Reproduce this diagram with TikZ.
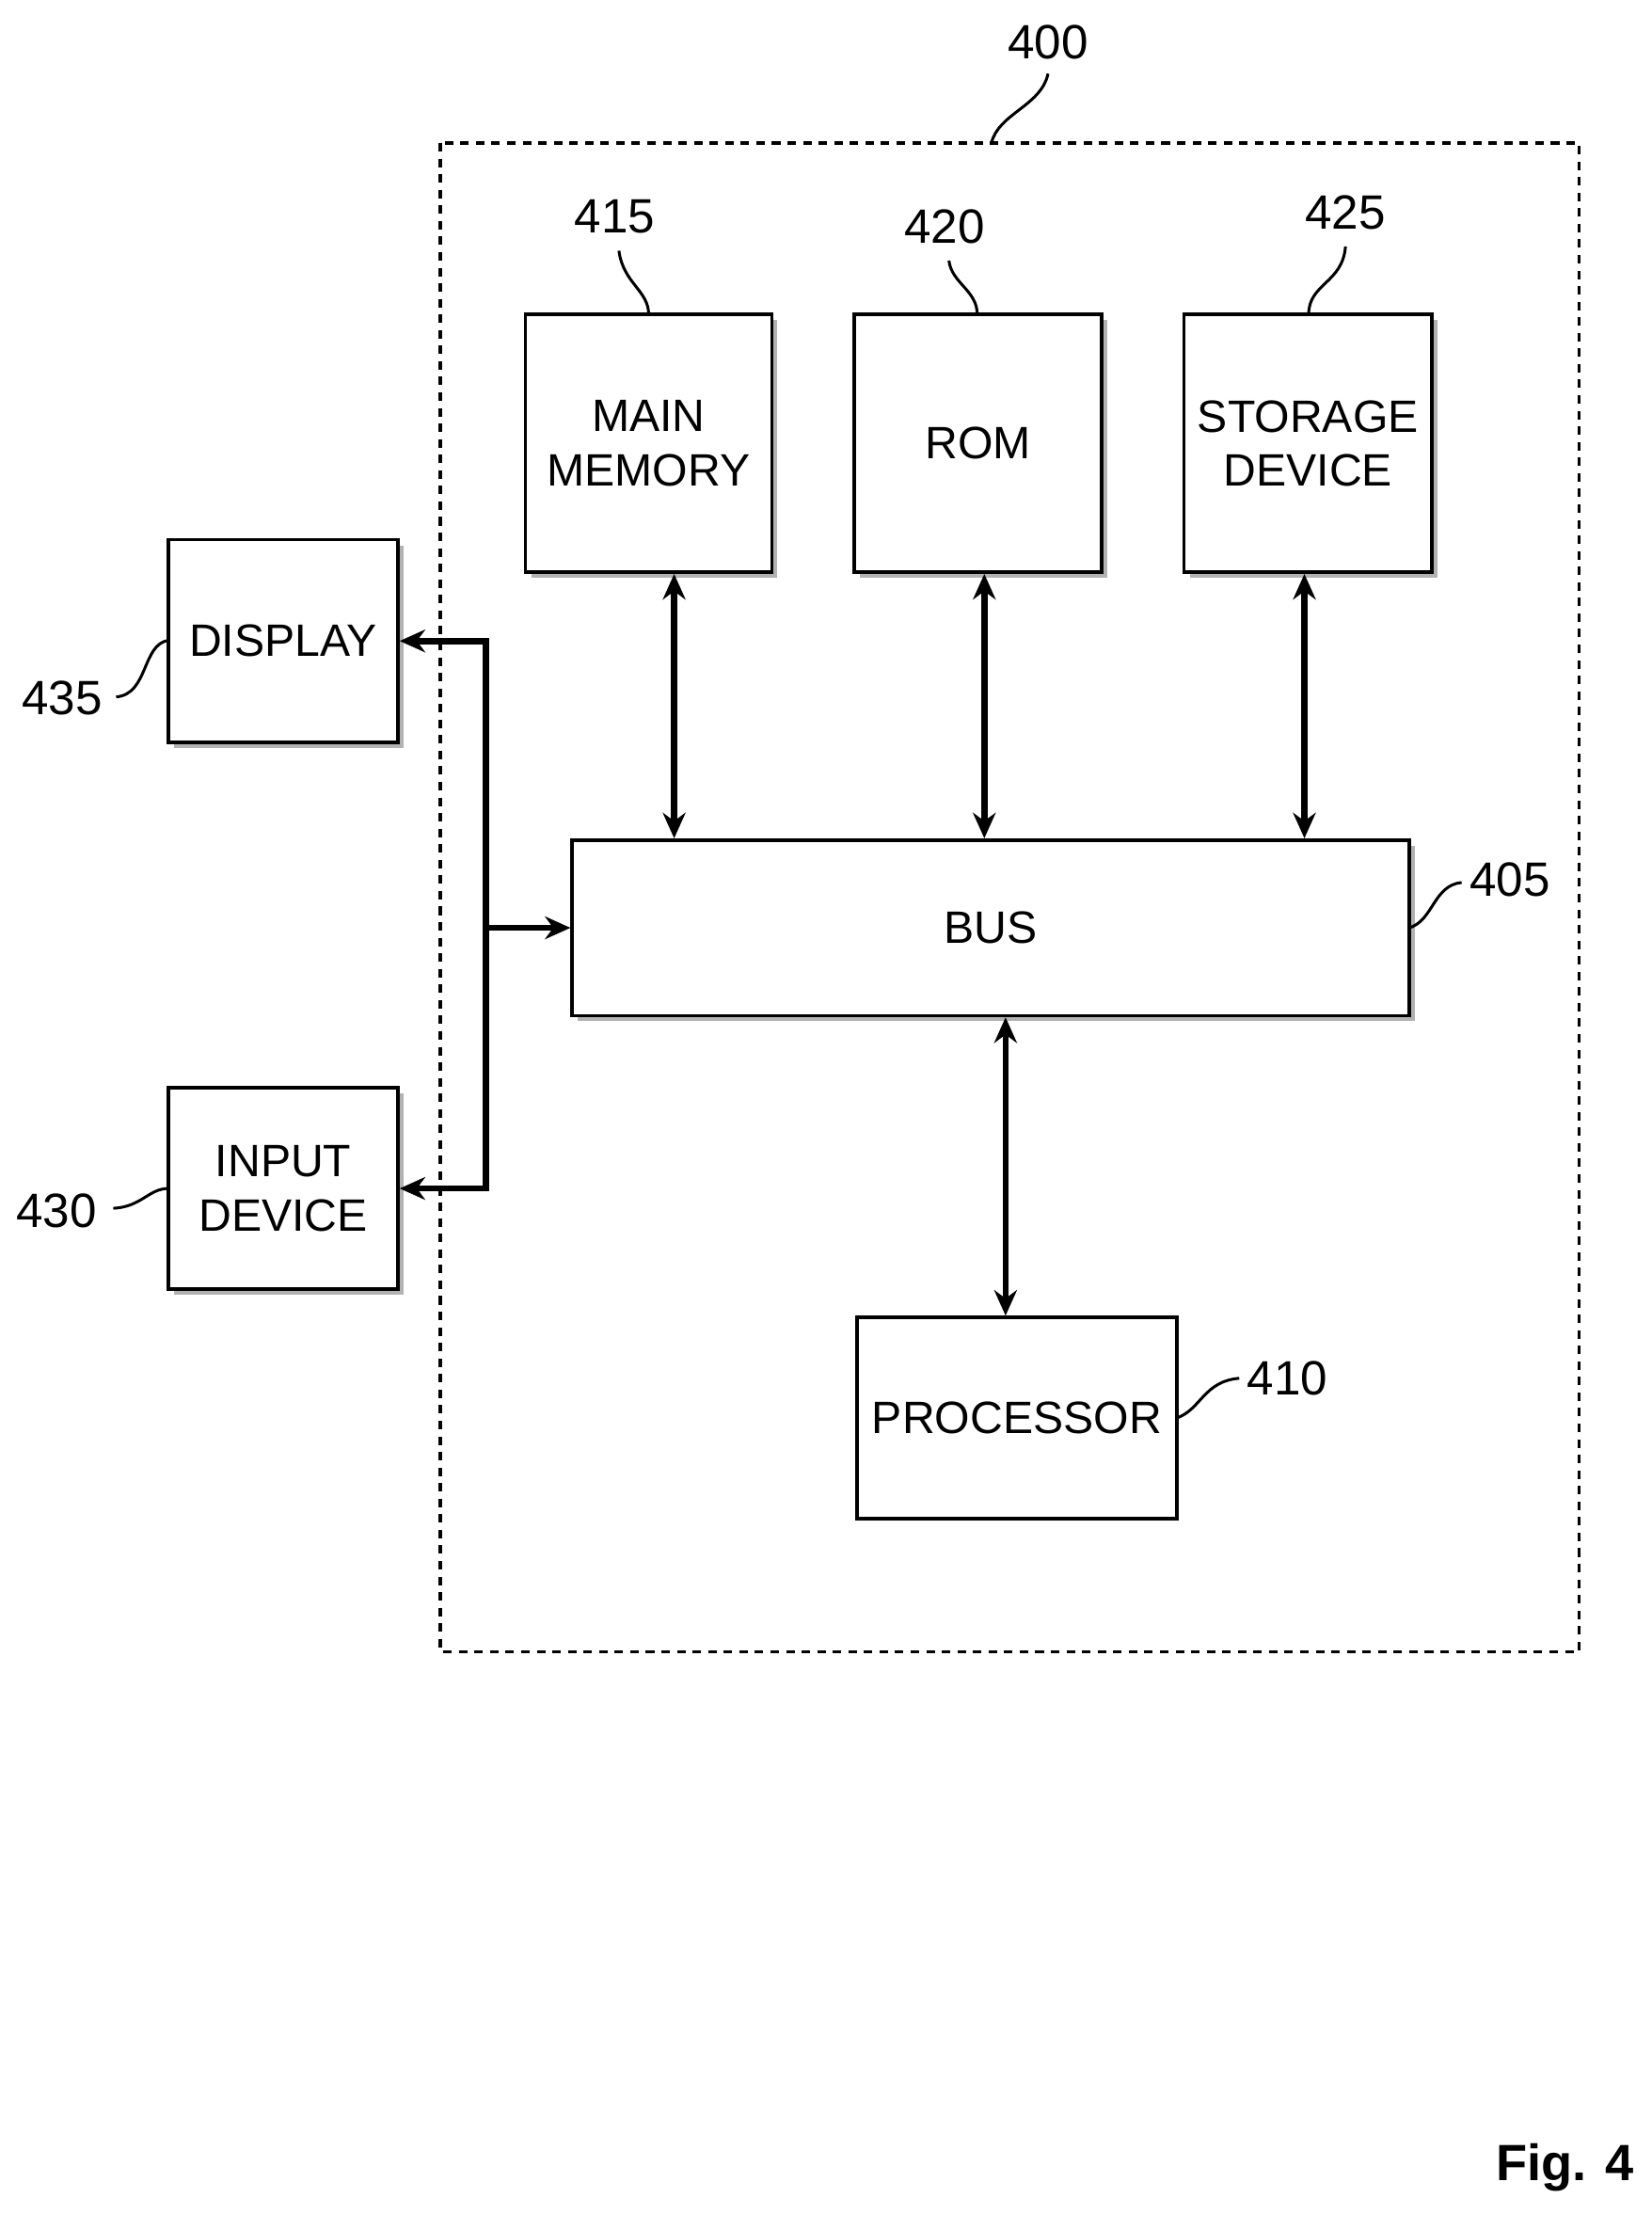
\documentclass[tikz,border=0pt]{standalone}
\usepackage{fontspec}
\setmainfont{Liberation Sans}
\usepackage{tikz}
\usetikzlibrary{arrows.meta}

\begin{document}
\begin{tikzpicture}[x=0.5pt,y=0.5pt,yscale=-1,xscale=1,
  blk/.style={draw,line width=1.2pt,fill=white,inner sep=0pt,align=center,font=\fontsize{16}{19}\selectfont},
  lbl/.style={inner sep=0.75pt,font=\fontsize{17}{20}\selectfont},
  link/.style={line width=2.2pt,{Stealth[length=9pt,width=8pt]}-{Stealth[length=9pt,width=8pt]}},
  lead/.style={line width=1pt}]
\useasboundingbox (0,0) rectangle (1166,1563);

%Shape: Dashed Rect [id:frame]
\draw [line width=1.2pt,dash pattern={on 3pt off 2.5pt}] (311,101) rectangle (1115,1166);

%Shadows
\foreach \a/\b/\c/\d in {371/222/545/404, 603/222/778/404, 836/222/1011/404, 119/381/281/524, 119/768/281/910, 404/593/995/717}
  \fill [gray!60] (\a+4,\b+4) rectangle (\c+4,\d+4);

% Boxes
\node [blk,minimum width=87pt,minimum height=91pt] (mem) at (458,313) {MAIN\\MEMORY};
\node [blk,minimum width=87.5pt,minimum height=91pt] (rom) at (690.5,313) {ROM};
\node [blk,minimum width=87.5pt,minimum height=91pt] (sto) at (923.5,313) {STORAGE\\DEVICE};
\node [blk,minimum width=81pt,minimum height=71.5pt] (disp) at (200,452.5) {DISPLAY};
\node [blk,minimum width=81pt,minimum height=71pt] (inp) at (200,839) {INPUT\\DEVICE};
\node [blk,minimum width=295.5pt,minimum height=62pt] (bus) at (699.5,655) {BUS};
\node [blk,minimum width=113pt,minimum height=71pt] (proc) at (718,1001) {PROCESSOR};

% Connectors
\draw [link] (mem.south -| 476,0) -- (bus.north -| 476,0);
\draw [link] (rom.south -| 695,0) -- (bus.north -| 695,0);
\draw [link] (sto.south -| 921,0) -- (bus.north -| 921,0);
\draw [link] (bus.south -| 710,0) -- (proc.north -| 710,0);
\coordinate (jn) at (343,655);
\draw [link] (disp.east) -| (jn) |- (inp.east);
\draw [line width=2.2pt,-{Stealth[length=9pt,width=8pt]}] (jn) -- (bus.west);

% Reference numerals
\node [lbl] (n400) at (740,30) {400};
\draw [lead] (700,101) .. controls (705,80) and (735,75) .. (740,52);
\node [lbl] (n415) at (434,153) {415};
\draw [lead] (458,222) .. controls (458,205) and (440,200) .. (437,177);
\node [lbl] (n420) at (667,160) {420};
\draw [lead] (690,222) .. controls (690,205) and (672,200) .. (670,184);
\node [lbl] (n425) at (950,150) {425};
\draw [lead] (924,222) .. controls (924,200) and (948,200) .. (950,174);
\node [lbl] (n435) at (44,493) {435};
\draw [lead] (119,452) .. controls (100,455) and (105,490) .. (82,492);
\node [lbl] (n430) at (40,855) {430};
\draw [lead] (119,839) .. controls (105,839) and (100,852) .. (80,853);
\node [lbl] (n405) at (1066,621) {405};
\draw [lead] (995,655) .. controls (1012,650) and (1012,625) .. (1032,623);
\node [lbl] (n410) at (909,973) {410};
\draw [lead] (831,1001) .. controls (848,995) and (850,975) .. (875,973);

\node [font=\bfseries\fontsize{18}{21}\selectfont,inner sep=0pt] (fig) at (1105,1530) {Fig. 4};
\end{tikzpicture}
\end{document}
